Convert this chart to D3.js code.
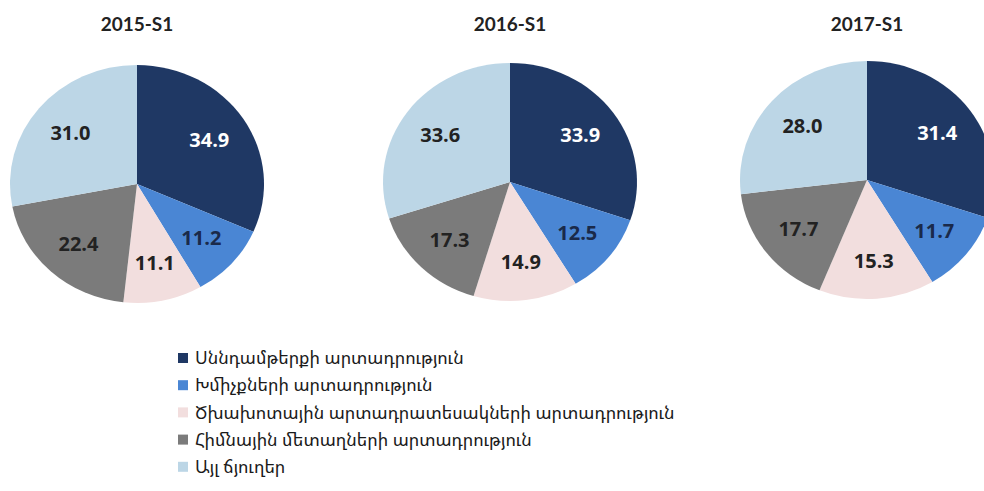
<!DOCTYPE html>
<html>
<head>
<meta charset="utf-8">
<script src="https://cdn.jsdelivr.net/npm/d3@7"></script>
<style>
  body { margin: 0; background: #fff; }
  svg { display: block; }
</style>
</head>
<body>
<div id="chart"></div>
<script>
// data
const periods = ["2015-S1", "2016-S1", "2017-S1"];
const categories = [
  "Սննդամթերքի արտադրություն",
  "Խմիչքների արտադրություն",
  "Ծխախոտային արտադրատեսակների արտադրություն",
  "Հիմնային մետաղների արտադրություն",
  "Այլ ճյուղեր"
];
const values2015 = [34.9, 11.2, 11.1, 22.4, 31.0];
const values2016 = [33.9, 12.5, 14.9, 17.3, 33.6];
const values2017 = [31.4, 11.7, 15.3, 17.7, 28.0];
const colors = ["#1f3864", "#4a86d4", "#f2dede", "#7b7b7b", "#bcd6e6"];
const labelColors = ["#ffffff", "#1a2a4a", "#222222", "#222222", "#222222"];

const width = 984, height = 491;
const svg = d3.select("#chart").append("svg")
  .attr("width", width)
  .attr("height", height);

const allValues = [values2015, values2016, values2017];
const centers = [[137, 184], [510, 182], [867, 180]];
const rx = 127, ry = 119;

const pie = d3.pie().sort(null).value(d => d);
const arc = d3.arc().innerRadius(0).outerRadius(rx);
const labelArc = d3.arc().innerRadius(rx * 0.52).outerRadius(rx * 0.84);

periods.forEach((p, k) => {
  const [cx, cy] = centers[k];
  svg.append("text")
    .attr("x", cx)
    .attr("y", 31)
    .attr("text-anchor", "middle")
    .attr("font-family", "Lato, 'Open Sans', sans-serif")
    .attr("font-weight", 700)
    .attr("font-size", 19)
    .attr("fill", "#222")
    .text(p);

  const g = svg.append("g").attr("transform", `translate(${cx},${cy})`);
  const arcs = pie(allValues[k]);

  // slightly flattened pie, like the source image
  g.append("g")
    .attr("transform", `scale(1,${ry / rx})`)
    .selectAll("path")
    .data(arcs)
    .join("path")
    .attr("d", arc)
    .attr("fill", (d, i) => colors[i]);

  g.selectAll("text")
    .data(arcs)
    .join("text")
    .attr("transform", d => {
      const [x, y] = labelArc.centroid(d);
      return `translate(${x},${y * ry / rx})`;
    })
    .attr("text-anchor", "middle")
    .attr("dy", "0.36em")
    .attr("font-family", "Open Sans, sans-serif")
    .attr("font-weight", 700)
    .attr("font-size", 20)
    .attr("fill", (d, i) => labelColors[i])
    .text(d => d.data.toFixed(1));
});

// legend
const legend = svg.append("g").attr("transform", "translate(178,358)");
const rowH = 27.2;
const rows = legend.selectAll("g")
  .data(categories)
  .join("g")
  .attr("transform", (d, i) => `translate(0,${i * rowH})`);

rows.append("rect")
  .attr("x", 0)
  .attr("y", -5)
  .attr("width", 10)
  .attr("height", 10)
  .attr("fill", (d, i) => colors[i]);

rows.append("text")
  .attr("x", 17)
  .attr("dy", "0.35em")
  .attr("font-family", "'Noto Sans Armenian', 'DejaVu Sans', 'Noto Sans', sans-serif")
  .attr("font-size", 17.5)
  .attr("fill", "#1a1a1a")
  .text(d => d);
</script>
</body>
</html>
